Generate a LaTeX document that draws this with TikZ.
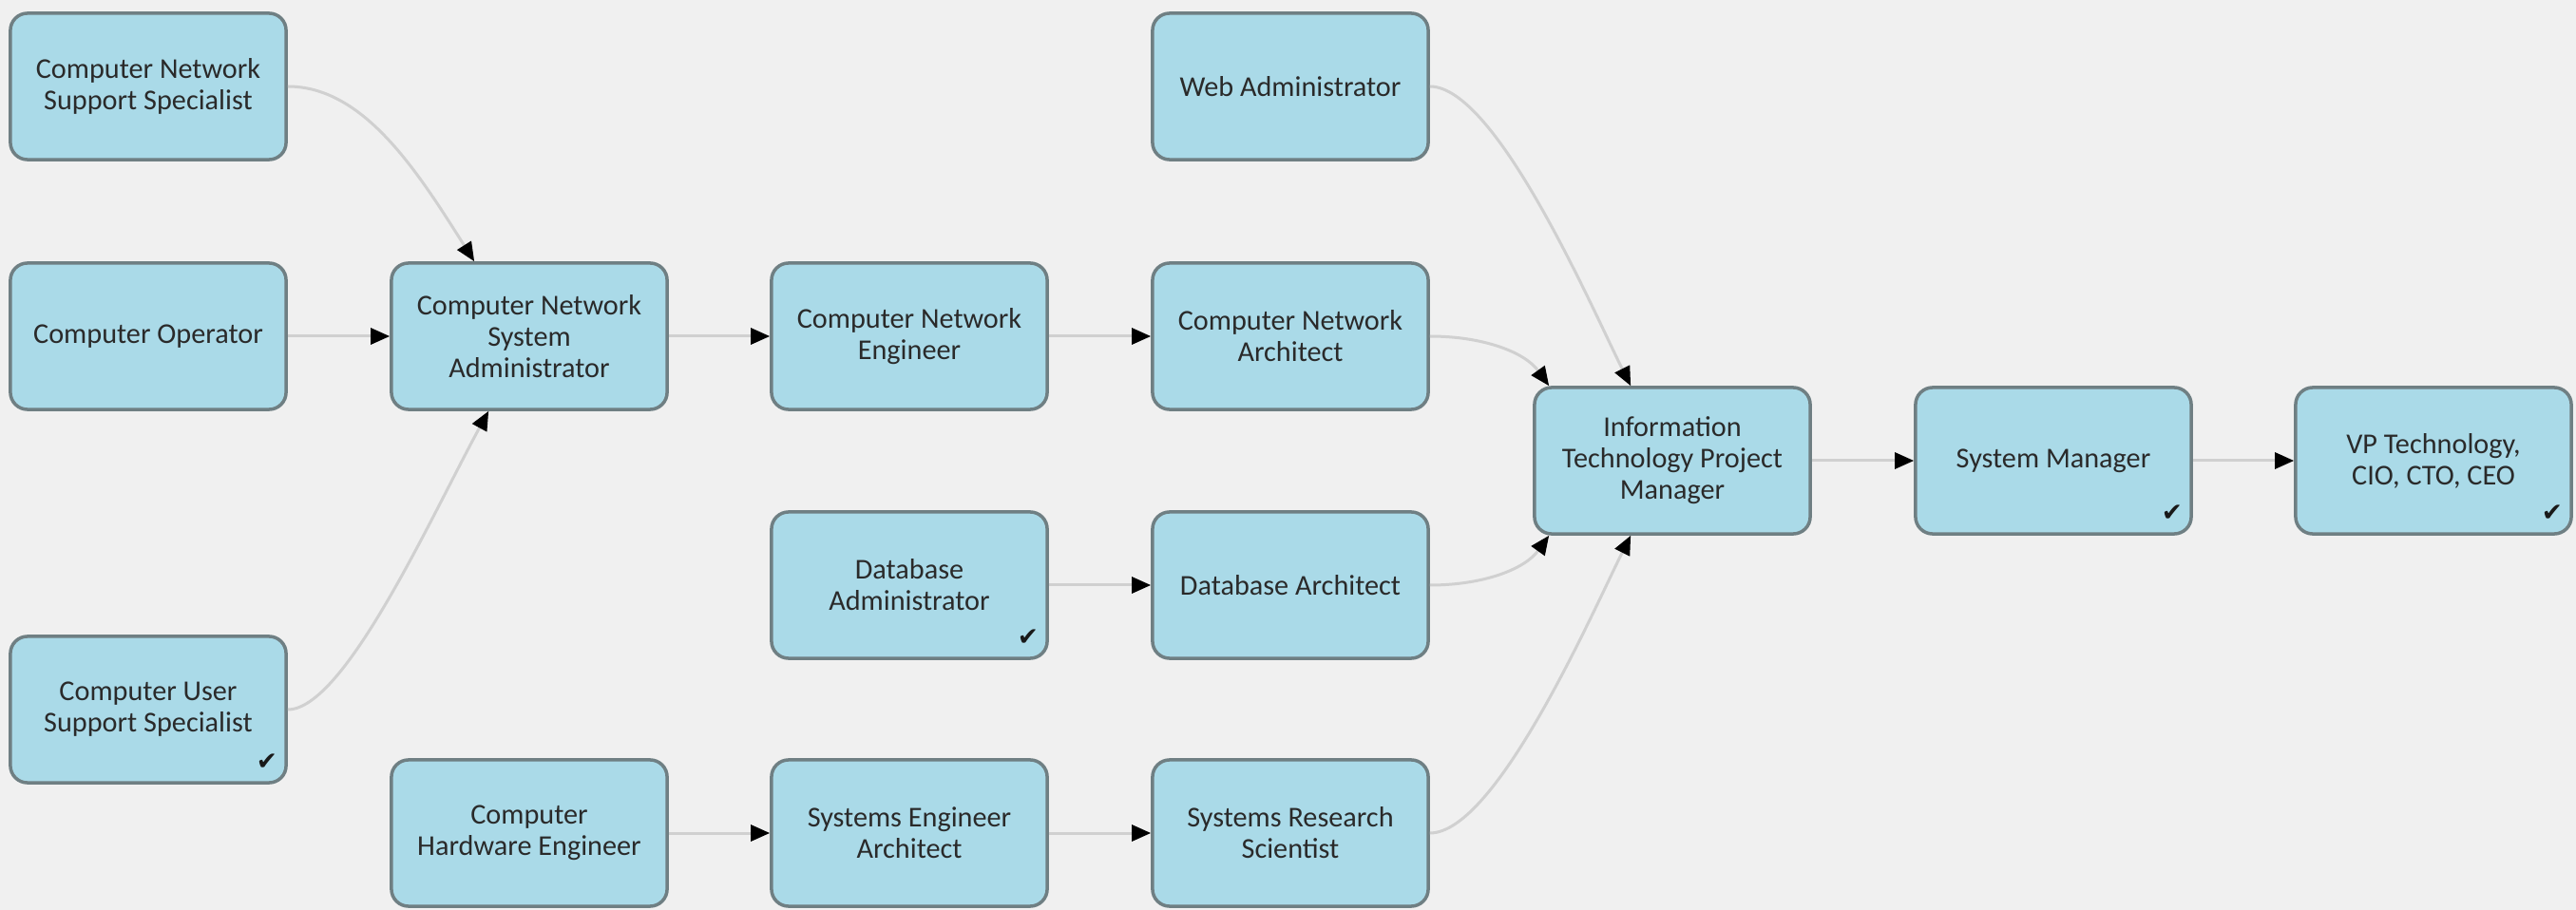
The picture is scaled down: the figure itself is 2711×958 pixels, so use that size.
\documentclass[tikz,border=0pt]{standalone}
\usepackage{fontspec}
\setmainfont{Carlito}
\newfontfamily\dejavu{DejaVu Sans}
\usetikzlibrary{arrows.meta,calc}
\definecolor{bg}{HTML}{F0F0F0}
\definecolor{boxfill}{HTML}{AADAE8}
\definecolor{boxline}{HTML}{6F7F83}
\definecolor{conn}{HTML}{D0D0D0}
\definecolor{txt}{HTML}{2A2A2A}
\begin{document}
\begin{tikzpicture}[x=0.01cm,y=-0.01cm,
  job/.style={draw=boxline, fill=boxfill, line width=0.035cm, rounded corners=0.18cm,
    minimum width=2.90cm, minimum height=1.54cm, inner sep=0pt, align=center,
    text=txt, font=\fontsize{8.6}{9.4}\selectfont},
  link/.style={draw=conn, line width=0.03cm, -{Triangle[length=0.2cm,width=0.17cm,color=black]}},
  tick/.style={font=\dejavu\fontsize{7.5}{8}\selectfont, text=black!90, inner sep=0pt}]
\fill[bg] (0,0) rectangle (2711,958);
\useasboundingbox (0,0) rectangle (2711,958);

% column 1
\node[job] (cnss) at (156,91) {Computer Network\\Support Specialist};
\node[job] (compop) at (156,354) {Computer Operator};
\node[job] (cuss) at (156,747) {Computer User\\Support Specialist};
% column 2
\node[job] (cnsa) at (557,354) {Computer Network\\System\\Administrator};
\node[job] (che) at (557,877) {Computer\\Hardware Engineer};
% column 3
\node[job] (cne) at (957,354) {Computer Network\\Engineer};
\node[job] (dba) at (957,616) {Database\\Administrator};
\node[job] (sea) at (957,877) {Systems Engineer\\Architect};
% column 4
\node[job] (web) at (1358,91) {Web Administrator};
\node[job] (cna) at (1358,354) {Computer Network\\Architect};
\node[job] (dbarch) at (1358,616) {Database Architect};
\node[job] (srs) at (1358,877) {Systems Research\\Scientist};
% columns 5-7
\node[job] (itpm) at (1760,485) {Information\\Technology Project\\Manager};
\node[job] (sysmgr) at (2161,485) {System Manager};
\node[job] (vp) at (2561,485) {VP Technology,\\CIO, CTO, CEO};

% check marks
\node[tick] (ck1) at ($(cuss.south east)+(-22,-24)$) {✔};
\node[tick] (ck2) at ($(dba.south east)+(-22,-24)$) {✔};
\node[tick] (ck3) at ($(sysmgr.south east)+(-22,-24)$) {✔};
\node[tick] (ck4) at ($(vp.south east)+(-22,-24)$) {✔};

% connectors
\draw[link] (cnss.east) .. controls +(80,0) and +(-60,-95) .. ($(cnsa.north west)+(89,0)$);
\draw[link] (compop.east) -- (cnsa.west);
\draw[link] (cuss.east) .. controls +(60,0) and +(-60,110) .. ($(cnsa.south west)+(104,0)$);
\draw[link] (cnsa.east) -- (cne.west);
\draw[link] (cne.east) -- (cna.west);
\draw[link] (dba.east) -- (dbarch.west);
\draw[link] (che.east) -- (sea.west);
\draw[link] (sea.east) -- (srs.west);
\draw[link] (web.east) .. controls +(70,0) and +(-40,-80) .. ($(itpm.north west)+(103,0)$);
\draw[link] (cna.east) .. controls +(57,0) and +(-25,-35) .. ($(itpm.north west)+(17,0)$);
\draw[link] (dbarch.east) .. controls +(57,0) and +(-25,35) .. ($(itpm.south west)+(17,0)$);
\draw[link] (srs.east) .. controls +(70,0) and +(-40,80) .. ($(itpm.south west)+(103,0)$);
\draw[link] (itpm.east) -- (sysmgr.west);
\draw[link] (sysmgr.east) -- (vp.west);
\end{tikzpicture}
\end{document}
